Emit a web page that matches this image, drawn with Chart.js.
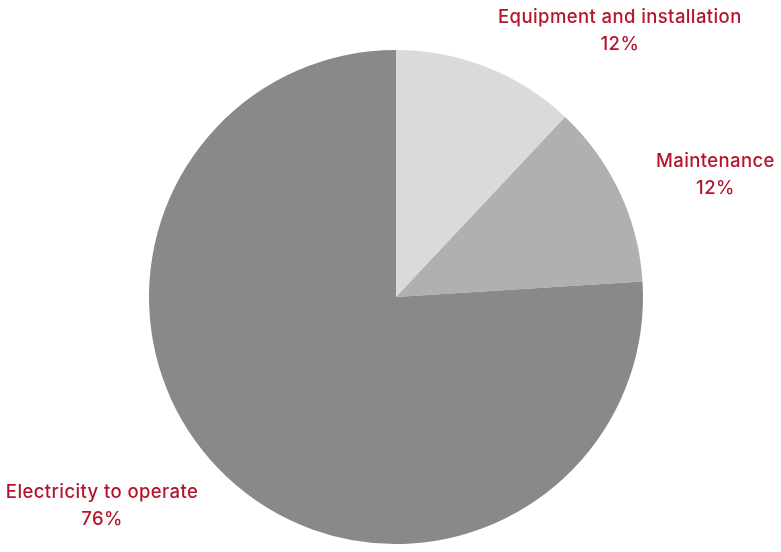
<!DOCTYPE html>
<html>
<head>
<meta charset="utf-8">
<script src="https://cdn.jsdelivr.net/npm/chart.js@4"></script>
<style>
  html, body { margin: 0; padding: 0; background: #ffffff; }
  #wrap { width: 781px; height: 552px; }
</style>
</head>
<body>
<div id="wrap"><canvas id="c" width="781" height="552"></canvas></div>
<script>
const categories = ["Equipment and installation", "Maintenance", "Electricity to operate"];
const shares = [12, 12, 76];
const sliceColors = ["#dbd9da", "#b0b0b0", "#898989"];
// label placement: angle (degrees clockwise from top) and distance as multiple of radius
const labelAngles = [40, 69, 234.6];
const labelDist = [1.41, 1.385, 1.46];

const labelPlugin = {
  id: 'outerLabels',
  afterDatasetsDraw(chart) {
    const ctx = chart.ctx;
    const meta = chart.getDatasetMeta(0);
    const arc0 = meta.data[0];
    const cx = arc0.x, cy = arc0.y, r = arc0.outerRadius;
    ctx.save();
    ctx.fillStyle = '#b5152b';
    ctx.font = '500 18.5px Inter';
    if ('letterSpacing' in ctx) ctx.letterSpacing = '0.4px';
    ctx.textAlign = 'center';
    ctx.textBaseline = 'middle';
    categories.forEach((cat, i) => {
      const a = labelAngles[i] * Math.PI / 180;
      const x = cx + Math.sin(a) * r * labelDist[i];
      const y = cy - Math.cos(a) * r * labelDist[i];
      ctx.fillText(cat, x, y - 13);
      ctx.fillText(shares[i] + '%', x, y + 14);
    });
    ctx.restore();
  }
};

new Chart(document.getElementById('c'), {
  type: 'pie',
  data: {
    labels: categories,
    datasets: [{
      data: shares,
      backgroundColor: sliceColors,
      borderWidth: 0
    }]
  },
  options: {
    responsive: false,
    animation: false,
    devicePixelRatio: 1,
    layout: { padding: { top: 50, bottom: 8, left: 11, right: 0 } },
    plugins: { legend: { display: false }, tooltip: { enabled: false } }
  },
  plugins: [labelPlugin]
});
</script>
</body>
</html>
